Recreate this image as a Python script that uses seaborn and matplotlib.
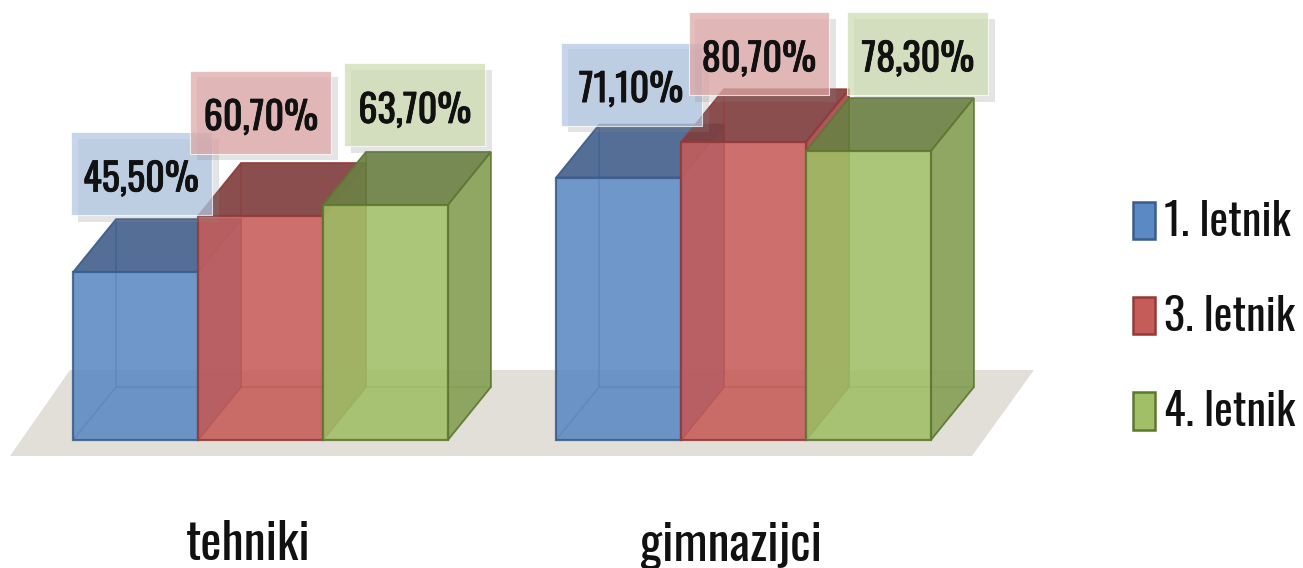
import numpy as np
import pandas as pd
import matplotlib
matplotlib.use("Agg")
import matplotlib.pyplot as plt
import matplotlib.patheffects as pe
from matplotlib.patches import Polygon, Patch, Rectangle
import seaborn as sns

# ---------------- data ----------------
categories = ["tehniki", "gimnazijci"]
series = ["1. letnik", "3. letnik", "4. letnik"]
values_1 = [45.5, 71.1]
values_3 = [60.7, 80.7]
values_4 = [63.7, 78.3]

# ---------------- style ----------------
FRONT = ["#5b89c3", "#c65c59", "#a0bf66"]
TOP = ["#45628c", "#7f3f3e", "#6b8044"]
SIDE = ["#4e74a6", "#a24b49", "#86a056"]
EDGE = ["#395d8c", "#933a38", "#5c7830"]
BOX = ["#b0c6e2", "#dfa6a5", "#cbdcae"]
FLOOR = "#e2dfd8"
FONT = ["Oswald", "DejaVu Sans"]

# pixel geometry of the reference (layout only)
W, H = 1303, 568
X0_PX, PX_PER_X = 260.5, 483.0
Y0_PX, PX_PER_Y = 440.0, 3.69
DX_PX, DY_PX = 43.0, 53.0
BOX_W_PX, BOX_H_PX = 141.0, 83.0
LABEL_NUDGE_PX = [(5.5, -98.6), (0.5, -104.0), (29.5, -100.0),
                  (12.5, -93.6), (15.5, -88.7), (49.5, -97.6)]


def px2data(px, py):
    return (px - X0_PX) / PX_PER_X, (Y0_PX - py) / PX_PER_Y


df = pd.DataFrame({
    "cat": categories * 3,
    "series": [s for s in series for _ in categories],
    "val": values_1 + values_3 + values_4,
})

sns.set_theme(style="white")
plt.rcParams["font.family"] = FONT

fig = plt.figure(figsize=(W / 100, H / 100), dpi=100)
ax = fig.add_axes([0, 0, 1, 1])

# floor
floor_pts = [px2data(10, 456), px2data(972, 456), px2data(1034, 370), px2data(70, 370)]
ax.add_patch(Polygon(floor_pts, closed=True, fc=FLOOR, ec="none", zorder=1))

sns.barplot(data=df, x="cat", y="val", hue="series", order=categories,
            hue_order=series, palette=FRONT, width=0.776, saturation=1,
            errorbar=None, legend=False, ax=ax)
ax.set_xlim(px2data(0, 0)[0], px2data(W, 0)[0])
ax.set_ylim(px2data(0, H)[1], px2data(0, 0)[1])
ax.axis("off")

dx = DX_PX / PX_PER_X
dy = DY_PX / PX_PER_Y

for h, cont in enumerate(ax.containers):
    for j, bar in enumerate(cont):
        order = j * 3 + h
        z = 3 + order * 0.1
        x0 = bar.get_x()
        w = bar.get_width()
        top = bar.get_height()
        x1 = x0 + w
        # hidden back edges
        ax.plot([x0, x0 + dx, x0 + dx], [0, dy, top + dy], color=EDGE[h], lw=1.2,
                alpha=0.6, zorder=z + 0.005, solid_capstyle="butt")
        ax.plot([x0 + dx, x1 + dx], [dy, dy], color=EDGE[h], lw=1.2, alpha=0.6,
                zorder=z + 0.005)
        # top face
        ax.add_patch(Polygon([(x0, top), (x1, top), (x1 + dx, top + dy), (x0 + dx, top + dy)],
                             closed=True, fc=TOP[h], ec=EDGE[h], lw=1.3, alpha=0.92, zorder=z))
        # right side face
        ax.add_patch(Polygon([(x1, 0), (x1 + dx, dy), (x1 + dx, top + dy), (x1, top)],
                             closed=True, fc=SIDE[h], ec=EDGE[h], lw=1.3, alpha=0.92, zorder=z + 0.01))
        # front face (seaborn bar)
        bar.set_zorder(z + 0.02)
        bar.set_alpha(0.88)
        bar.set_edgecolor(EDGE[h])
        bar.set_linewidth(1.6)

# value labels (box + text)
bw = BOX_W_PX / PX_PER_X
bh = BOX_H_PX / PX_PER_Y
for j in range(len(categories)):
    for h, cont in enumerate(ax.containers):
        bar = cont[j]
        v = bar.get_height()
        nx, ny = LABEL_NUDGE_PX[j * 3 + h]
        cx = bar.get_x() + bar.get_width() / 2 + nx / PX_PER_X
        cy = v - ny / PX_PER_Y
        box = Rectangle((cx - bw / 2, cy - bh / 2), bw, bh, fc=BOX[h], ec="white",
                        lw=0.8, alpha=0.72, zorder=10 + (j * 3 + h) * 0.01)
        box.set_path_effects([
            pe.SimplePatchShadow(offset=(5, -5), shadow_rgbFace="#888888", alpha=0.22),
            pe.Normal()])
        ax.add_patch(box)
        txt = f"{v:.2f}".replace(".", ",") + "%"
        t = ax.text(cx, cy - 18 / PX_PER_Y, txt, ha="center", va="baseline", fontsize=27.5,
                    fontweight="bold", color="#111111", zorder=12)
        t.set_path_effects([pe.withStroke(linewidth=0.6, foreground="#111111")])

# category labels
for j, cat in enumerate(categories):
    x, y = px2data(X0_PX + j * PX_PER_X - 12, 560)
    ax.text(x, y, cat, ha="center", va="baseline", fontsize=36, fontweight="light",
            color="#111111")

# legend
handles = [Patch(fc=FRONT[i], ec=EDGE[i], lw=1.8) for i in range(3)]
leg = fig.legend(handles, series, loc="center left",
                 bbox_to_anchor=(1133 / W, 1 - 317 / H), bbox_transform=fig.transFigure,
                 frameon=False, handlelength=0.5, handleheight=0.92,
                 handletextpad=0.2, labelspacing=1.15, borderpad=0, borderaxespad=0,
                 prop=dict(size=32, weight="light"))
for t in leg.get_texts():
    t.set_color("#111111")

fig.savefig("out.png", dpi=100)
